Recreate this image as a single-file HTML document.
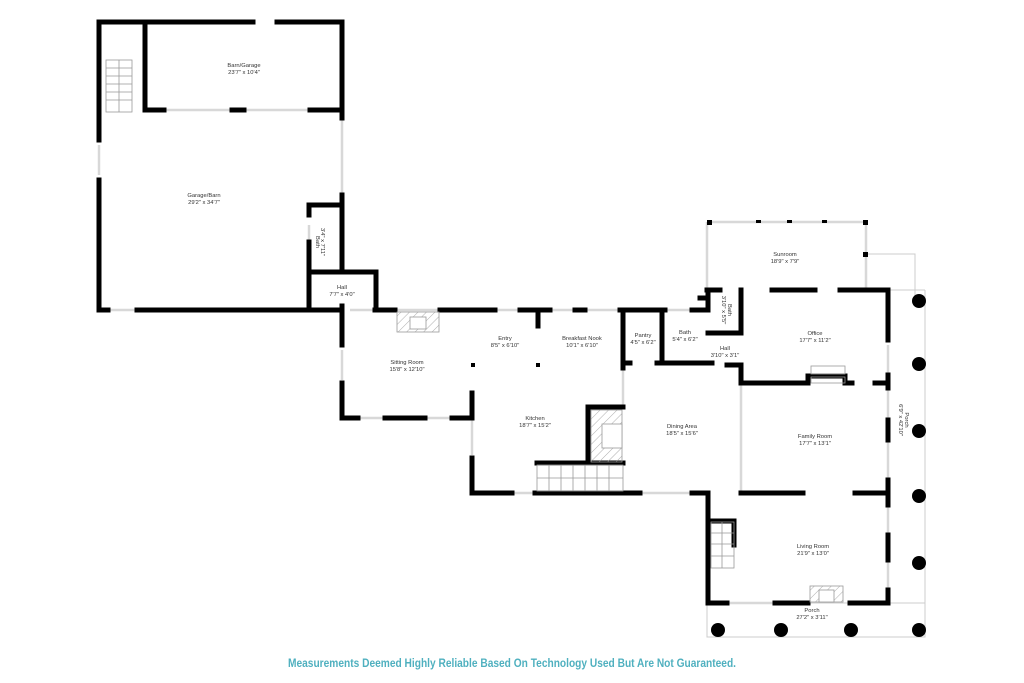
<!DOCTYPE html>
<html><head><meta charset="utf-8"><style>
html,body{margin:0;padding:0;background:#fff;}
svg{display:block;}
text{font-family:"Liberation Sans",sans-serif;fill:#333;}
.l{font-size:5.8px;text-anchor:middle;}
</style></head><body>
<svg width="1024" height="683" viewBox="0 0 1024 683" xmlns="http://www.w3.org/2000/svg">
<defs><pattern id="h" width="6" height="6" patternUnits="userSpaceOnUse" patternTransform="rotate(45)"><line x1="0" y1="0" x2="0" y2="6" stroke="#999" stroke-width="0.8"/></pattern></defs>
<rect width="1024" height="683" fill="#fff"/>
<g stroke="#ccc" stroke-width="1" fill="none">
<rect x="707" y="603" width="218" height="34"/>
<line x1="888" y1="290" x2="925" y2="290"/><line x1="925" y1="290" x2="925" y2="637"/>
<polyline points="866,254 915,254 915,300"/>
</g>
<g stroke="#d8d8d8" stroke-width="2.5" fill="none">
<line x1="342" y1="22" x2="342" y2="200"/>
<line x1="99" y1="25" x2="99" y2="45"/><line x1="99" y1="145" x2="99" y2="175"/>
<line x1="145" y1="110" x2="342" y2="110"/>
<line x1="110" y1="310" x2="135" y2="310"/>
<line x1="309" y1="225" x2="309" y2="240"/>
<line x1="342" y1="350" x2="342" y2="380"/>
<line x1="472" y1="420" x2="472" y2="455"/>
<line x1="741" y1="383" x2="741" y2="493"/>
<line x1="623" y1="368" x2="623" y2="407"/>
<line x1="707" y1="222" x2="866" y2="222"/>
<line x1="707" y1="222" x2="707" y2="290"/>
<line x1="866" y1="222" x2="866" y2="290"/>
<line x1="888" y1="345" x2="888" y2="375"/><line x1="888" y1="390" x2="888" y2="420"/><line x1="888" y1="440" x2="888" y2="480"/>
<line x1="888" y1="505" x2="888" y2="535"/><line x1="888" y1="560" x2="888" y2="590"/>
<line x1="640" y1="493" x2="692" y2="493"/><line x1="512" y1="493" x2="535" y2="493"/>
<line x1="350" y1="418" x2="470" y2="418"/>
<line x1="350" y1="310" x2="700" y2="310"/>
<line x1="710" y1="603" x2="800" y2="603"/>
</g>
<g stroke="#000" stroke-width="5" stroke-linecap="square" fill="none">
<polyline points="99,50 99,22 253,22"/><polyline points="277,22 342,22 342,118"/>
<line x1="99" y1="50" x2="99" y2="140"/><line x1="99" y1="180" x2="99" y2="310"/>
<polyline points="164,110 145,110 145,22"/>
<line x1="232" y1="110" x2="244" y2="110"/><line x1="310" y1="110" x2="342" y2="110"/>
<line x1="342" y1="195" x2="342" y2="272"/>
<polyline points="309,215 309,205 342,205"/><line x1="309" y1="242" x2="309" y2="310"/>
<polyline points="309,272 376,272 376,310"/>
<line x1="99" y1="310" x2="108" y2="310"/><line x1="137" y1="310" x2="342" y2="310"/>
<line x1="342" y1="306" x2="342" y2="345"/><line x1="342" y1="383" x2="342" y2="418"/>
<line x1="342" y1="418" x2="358" y2="418"/><line x1="385" y1="418" x2="425" y2="418"/><line x1="452" y1="418" x2="472" y2="418"/>
<line x1="472" y1="393" x2="472" y2="418"/><line x1="472" y1="458" x2="472" y2="493"/>
<line x1="472" y1="493" x2="512" y2="493"/><line x1="535" y1="493" x2="640" y2="493"/><line x1="692" y1="493" x2="708" y2="493"/>
<line x1="375" y1="310" x2="395" y2="310"/><line x1="440" y1="310" x2="495" y2="310"/><line x1="520" y1="310" x2="550" y2="310"/><line x1="575" y1="310" x2="585" y2="310"/><line x1="620" y1="310" x2="665" y2="310"/><line x1="692" y1="310" x2="708" y2="310"/>
<line x1="538" y1="310" x2="538" y2="326"/>
<line x1="623" y1="310" x2="623" y2="368"/>
<line x1="662" y1="310" x2="662" y2="363"/>
<line x1="623" y1="363" x2="630" y2="363"/><line x1="657" y1="363" x2="712" y2="363"/>
<polyline points="623,407 588,407 588,463 623,463"/>
<line x1="537" y1="463" x2="623" y2="463"/>
<line x1="708" y1="290" x2="708" y2="310"/><line x1="708" y1="298" x2="700" y2="298"/>
<line x1="708" y1="333" x2="741" y2="333"/>
<line x1="741" y1="290" x2="741" y2="333"/>
<line x1="727" y1="365" x2="741" y2="365"/><line x1="741" y1="365" x2="741" y2="383"/>
<line x1="707" y1="290" x2="720" y2="290"/><line x1="772" y1="290" x2="815" y2="290"/><line x1="840" y1="290" x2="888" y2="290"/>
<line x1="888" y1="290" x2="888" y2="340"/><line x1="888" y1="375" x2="888" y2="388"/><line x1="888" y1="420" x2="888" y2="440"/><line x1="888" y1="480" x2="888" y2="505"/><line x1="888" y1="535" x2="888" y2="560"/><line x1="888" y1="590" x2="888" y2="603"/>
<line x1="741" y1="383" x2="808" y2="383"/><polyline points="808,383 808,376 845,376 845,383 852,383"/><line x1="875" y1="383" x2="888" y2="383"/>
<line x1="741" y1="493" x2="803" y2="493"/><line x1="855" y1="493" x2="888" y2="493"/>
<line x1="708" y1="493" x2="708" y2="603"/>
<line x1="708" y1="603" x2="727" y2="603"/><line x1="775" y1="603" x2="808" y2="603"/><line x1="850" y1="603" x2="888" y2="603"/>
<polyline points="710,521 734,521 734,545"/>
</g>
<g fill="#000">
<rect x="471" y="363" width="4" height="4"/><rect x="536" y="363" width="4" height="4"/>
<rect x="707" y="220" width="5" height="5"/><rect x="863" y="220" width="5" height="5"/><rect x="863" y="252" width="5" height="5"/>
<rect x="756" y="220" width="5" height="3"/><rect x="787" y="220" width="5" height="3"/><rect x="822" y="220" width="5" height="3"/>
<circle cx="919" cy="301" r="7"/><circle cx="919" cy="364" r="7"/><circle cx="919" cy="431" r="7"/><circle cx="919" cy="496" r="7"/><circle cx="919" cy="563" r="7"/>
<circle cx="718" cy="630" r="7"/><circle cx="781" cy="630" r="7"/><circle cx="851" cy="630" r="7"/><circle cx="919" cy="630" r="7"/>
</g>
<g stroke="#999" stroke-width="0.8" fill="none">
<rect x="106" y="60" width="26" height="52"/>
<line x1="106" y1="68" x2="132" y2="68"/><line x1="106" y1="76" x2="132" y2="76"/><line x1="106" y1="84" x2="132" y2="84"/><line x1="106" y1="92" x2="132" y2="92"/><line x1="106" y1="100" x2="132" y2="100"/><line x1="119" y1="60" x2="119" y2="112"/>
<rect x="537" y="465" width="86" height="26"/>
<line x1="549" y1="465" x2="549" y2="491"/><line x1="561" y1="465" x2="561" y2="491"/><line x1="573" y1="465" x2="573" y2="491"/><line x1="585" y1="465" x2="585" y2="491"/><line x1="597" y1="465" x2="597" y2="491"/><line x1="609" y1="465" x2="609" y2="491"/><line x1="537" y1="478" x2="623" y2="478"/>
<rect x="711" y="522" width="23" height="46"/>
<line x1="711" y1="533" x2="734" y2="533"/><line x1="711" y1="544" x2="734" y2="544"/><line x1="711" y1="556" x2="734" y2="556"/><line x1="722" y1="522" x2="722" y2="568"/>
<rect x="397" y="312" width="42" height="20" fill="url(#h)"/><rect x="410" y="317" width="16" height="12" fill="#fff"/>
<rect x="591" y="410" width="31" height="52" fill="url(#h)"/><rect x="602" y="424" width="20" height="24" fill="#fff"/>
<rect x="810" y="586" width="33" height="16" fill="url(#h)"/><rect x="819" y="590" width="15" height="12" fill="#fff"/>
<rect x="811" y="366" width="34" height="8"/><rect x="811" y="377" width="34" height="6"/>
</g>
<g class="l">
<text x="244" y="67">Barn/Garage</text><text x="244" y="74">23'7" x 10'4"</text>
<text x="204" y="197">Garage/Barn</text><text x="204" y="204">29'2" x 34'7"</text>
<text x="342" y="289">Hall</text><text x="342" y="296">7'7" x 4'0"</text>
<text x="407" y="364">Sitting Room</text><text x="407" y="371">15'8" x 12'10"</text>
<text x="505" y="340">Entry</text><text x="505" y="347">8'5" x 6'10"</text>
<text x="582" y="340">Breakfast Nook</text><text x="582" y="347">10'1" x 6'10"</text>
<text x="643" y="337">Pantry</text><text x="643" y="344">4'5" x 6'2"</text>
<text x="685" y="334">Bath</text><text x="685" y="341">5'4" x 6'2"</text>
<text x="725" y="350">Hall</text><text x="725" y="357">3'10" x 3'1"</text>
<text x="535" y="420">Kitchen</text><text x="535" y="427">18'7" x 15'2"</text>
<text x="682" y="428">Dining Area</text><text x="682" y="435">18'5" x 15'6"</text>
<text x="785" y="256">Sunroom</text><text x="785" y="263">18'9" x 7'9"</text>
<text x="815" y="335">Office</text><text x="815" y="342">17'7" x 11'2"</text>
<text x="815" y="438">Family Room</text><text x="815" y="445">17'7" x 13'1"</text>
<text x="813" y="548">Living Room</text><text x="813" y="555">21'9" x 13'0"</text>
<text x="812" y="612">Porch</text><text x="812" y="619">27'2" x 3'11"</text>
<text transform="translate(316,242) rotate(90)">Bath</text><text transform="translate(321,242) rotate(90)">3'4" x 7'11"</text>
<text transform="translate(728,310) rotate(90)">Bath</text><text transform="translate(722,310) rotate(90)">3'10" x 5'5"</text>
<text transform="translate(905,420) rotate(90)">Porch</text><text transform="translate(899,420) rotate(90)">6'9" x 42'10"</text>
</g>
<text x="288" y="667" textLength="448" lengthAdjust="spacingAndGlyphs" style="font-size:12px;font-weight:bold;fill:#4fb0bf;">Measurements Deemed Highly Reliable Based On Technology Used But Are Not Guaranteed.</text>
</svg>
</body></html>
